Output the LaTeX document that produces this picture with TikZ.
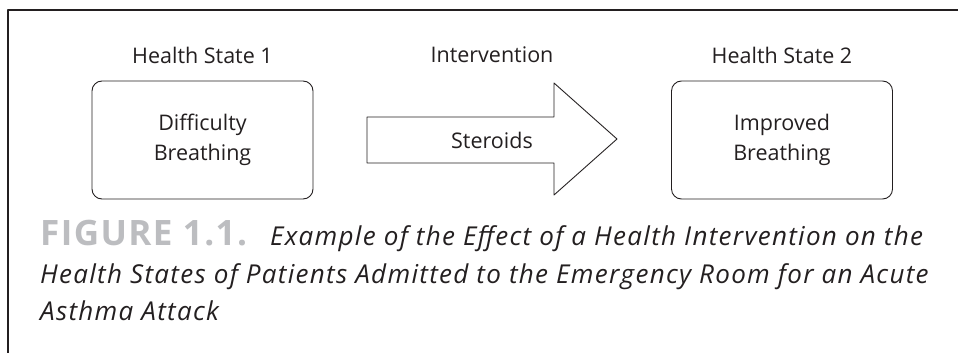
\documentclass[tikz,border=0pt]{standalone}
\usepackage{fontspec}
\setmainfont{Open Sans}
\newfontfamily\capfont[LetterSpace=5]{Open Sans}
\newfontfamily\figfont[LetterSpace=4]{Open Sans}
\usetikzlibrary{positioning}
\definecolor{ink}{RGB}{35,31,32}
\definecolor{figgray}{RGB}{188,189,192}

\begin{document}
\begin{tikzpicture}[line cap=round,line join=round,x=1pt,y=-1pt,
  state/.style={draw=ink,line width=0.9pt,rounded corners=10pt,minimum width=221pt,minimum height=118pt,align=center,text=ink,font=\fontsize{21.5}{30}\selectfont},
  heading/.style={text=ink,font=\fontsize{21.5}{25}\selectfont},
  captext/.style={anchor=base west,inner sep=0pt,text=ink,font=\capfont\fontsize{26}{30}\selectfont\itshape}]
\useasboundingbox (0,0) rectangle (958,353);
%kehys
\draw[ink,line width=1.6pt] (958,10)--(8,10)--(8,353);

%tilat
\node (s1) [state] at (202.5,140) {Difficulty\\Breathing};
\node (s2) [state] at (782,140) {Improved\\Breathing};
\node (h1) [heading] at (202.5,55) {Health State 1};
\node (h2) [heading] at (782,55) {Health State 2};

%nuoli
\draw[ink,line width=0.9pt] (367,117)--(554,117)--(554,83)--(617,139)--(554,195)--(554,163)--(367,163)--cycle;
\node (ster) [heading] at (492,140) {Steroids};
\node (hi) [heading] at (492,55) {Intervention};

%kuvateksti
\node (fig) [anchor=base west,inner sep=0pt,text=figgray,font=\figfont\fontsize{35}{38}\selectfont\bfseries] at (40,245) {FIGURE 1.1.};
\node (cap1) [captext] at (270,245) {Example of the Effect of a Health Intervention on the};
\node (cap2) [captext] at (40,283) {Health States of Patients Admitted to the Emergency Room for an Acute};
\node (cap3) [captext] at (40,320) {Asthma Attack};
\end{tikzpicture}
\end{document}
